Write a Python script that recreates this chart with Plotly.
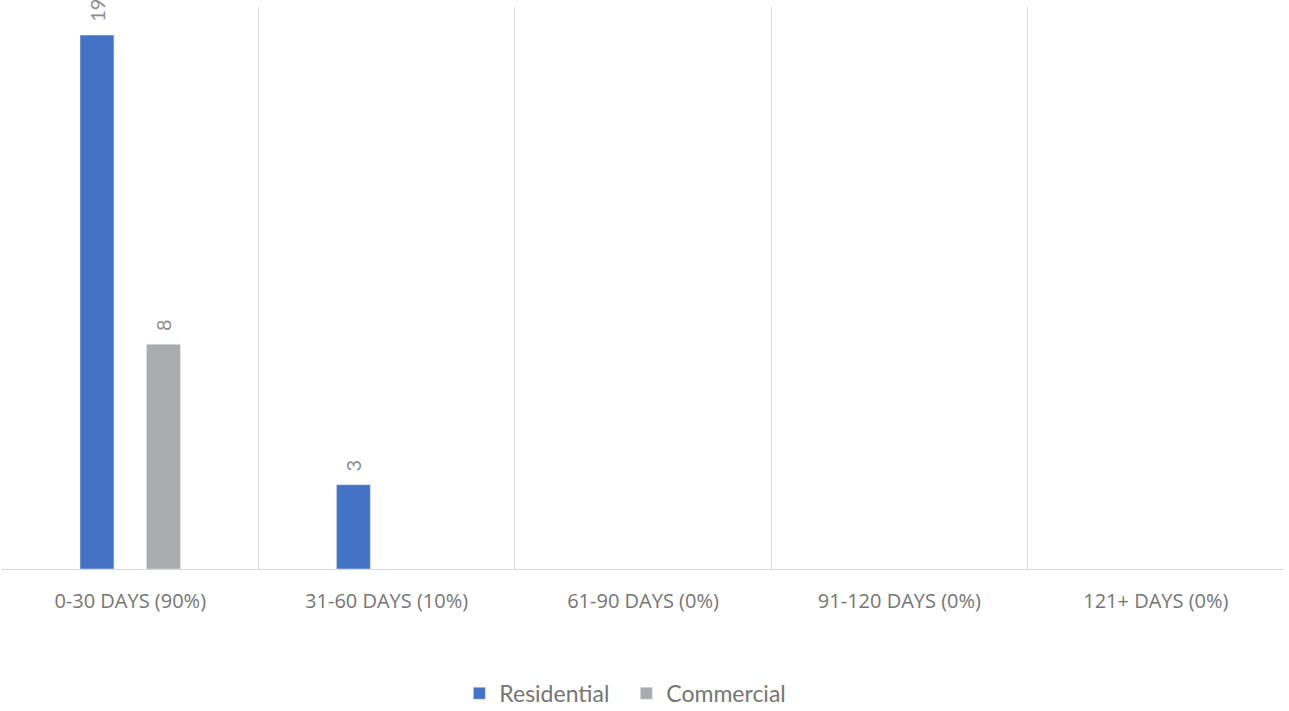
import plotly.graph_objects as go

categories = ["0-30 DAYS (90%)", "31-60 DAYS (10%)", "61-90 DAYS (0%)",
              "91-120 DAYS (0%)", "121+ DAYS (0%)"]
residential = [19, 3, 0, 0, 0]
commercial = [8, 0, 0, 0, 0]


def bar_vals(vals):
    # zero bars are not drawn at all in the original
    return [v if v else None for v in vals]


def bar_text(vals):
    # leading nbsp pushes the rotated label a bit further off the bar
    return ["\u00a0\u00a0" + str(v) if v else "" for v in vals]


label_font = dict(color="#8C8C8C", size=20, family="Lato")

fig = go.Figure()
fig.add_trace(go.Bar(
    x=categories, y=bar_vals(residential), name="Residential",
    marker_color="#4472C4",
    text=bar_text(residential), textposition="outside", textangle=-90,
    textfont=label_font, cliponaxis=False,
))
fig.add_trace(go.Bar(
    x=categories, y=bar_vals(commercial), name="Commercial",
    marker_color="#AAABAF",
    text=bar_text(commercial), textposition="outside", textangle=-90,
    textfont=label_font, cliponaxis=False,
))

fig.update_layout(
    width=1289, height=711,
    barmode="group", bargap=0.482, bargroupgap=0.489,
    margin=dict(l=2, r=5, t=7, b=142, autoexpand=False),
    paper_bgcolor="white", plot_bgcolor="white",
    font=dict(family="Lato", color="#757575"),
    showlegend=True,
    legend=dict(orientation="h", x=0.487, xanchor="center",
                yref="container", y=0.025, yanchor="middle",
                font=dict(size=23, color="#757575"), itemwidth=30,
                entrywidth=122, traceorder="normal"),
    xaxis=dict(
        type="category", tickson="boundaries", showgrid=True,
        gridcolor="#D9D9D9", gridwidth=1,
        showline=True, linecolor="#D9D9D9", linewidth=1,
        ticks="", tickfont=dict(size=20, color="#757575", family="Open Sans"),
        ticklabelstandoff=14, automargin=False,
    ),
    yaxis=dict(range=[0, 20], visible=False, showgrid=False, zeroline=False),
)

fig.write_html("out.html", config={"displayModeBar": False},
               post_script="document.body.style.margin='0';")
